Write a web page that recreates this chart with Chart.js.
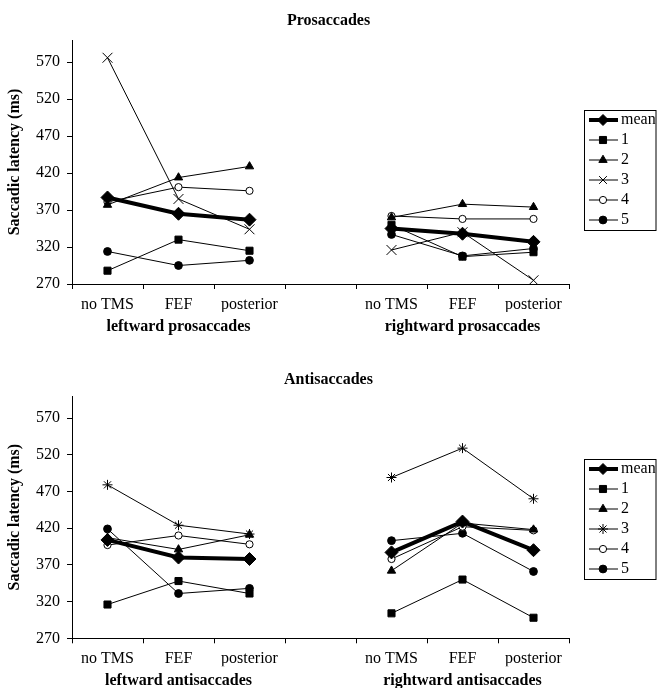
<!DOCTYPE html>
<html><head><meta charset="utf-8">
<script src="https://cdn.jsdelivr.net/npm/chart.js@4.4.1/dist/chart.umd.min.js"></script>
<style>
html,body{margin:0;padding:0;background:#fff;}
#c1{position:absolute;left:0;top:0;}
#c2{position:absolute;left:0;top:350px;}
</style></head><body>
<canvas id="c1" width="657" height="350"></canvas>
<canvas id="c2" width="657" height="338"></canvas>
<script>
// ---------- data ----------
const categories = ['no TMS', 'FEF', 'posterior', '', 'no TMS', 'FEF', 'posterior'];
const proGroups  = ['', 'leftward prosaccades', '', '', '', 'rightward prosaccades', ''];
const antiGroups = ['', 'leftward antisaccades', '', '', '', 'rightward antisaccades', ''];
const yTicks = [270, 320, 370, 420, 470, 520, 570];
const seriesNames = ['mean', '1', '2', '3', '4', '5'];

const proMean = [387, 365, 357, null, 345, 338, 327];
const pro1    = [288, 330, 315, null, 350, 307, 313];
const pro2    = [377, 414, 429, null, 360, 378, 374];
const pro3    = [576, 385, 344, null, 316, 340, 275];
const pro4    = [381, 401, 396, null, 362, 358, 358];
const pro5    = [314, 295, 302, null, 337, 308, 318];

const antiMean = [404, 380, 378, null, 387, 429, 390];
const anti1    = [316, 348, 331, null, 304, 350, 298];
const anti2    = [407, 391, 411, null, 362, 427, 418];
const anti3    = [479, 424, 412, null, 489, 529, 460];
const anti4    = [397, 410, 398, null, 378, 422, 417];
const anti5    = [419, 331, 338, null, 403, 413, 361];

// ---------- styles ----------
Chart.defaults.font.family = "'Liberation Serif', 'Times New Roman', serif";
Chart.defaults.color = '#000';

function seriesStyles(thirdStyle, thirdRadius) {
  return [
    {pointStyle: 'rectRot', radius: 6.5, lineWidth: 4, fill: '#000'},
    {pointStyle: 'rect', radius: 5, lineWidth: 1, fill: '#000'},
    {pointStyle: 'triangle', radius: 4.8, lineWidth: 1, fill: '#000'},
    {pointStyle: thirdStyle, radius: thirdRadius, lineWidth: 1, fill: '#000'},
    {pointStyle: 'circle', radius: 3.6, lineWidth: 1, fill: '#fff'},
    {pointStyle: 'circle', radius: 3.9, lineWidth: 1, fill: '#000'}
  ];
}

function drawMarker(ctx, style, r, x, y) {
  ctx.beginPath();
  const s = Math.SQRT1_2 * r;
  switch (style) {
    case 'rectRot':
      ctx.moveTo(x - r, y); ctx.lineTo(x, y - r); ctx.lineTo(x + r, y); ctx.lineTo(x, y + r); ctx.closePath(); ctx.fill(); ctx.stroke(); break;
    case 'rect':
      ctx.rect(x - s, y - s, 2 * s, 2 * s); ctx.fill(); ctx.stroke(); break;
    case 'triangle': {
      const h = r * Math.sqrt(3) / 2;
      ctx.moveTo(x, y - r); ctx.lineTo(x + h, y + r / 2); ctx.lineTo(x - h, y + r / 2); ctx.closePath(); ctx.fill(); ctx.stroke(); break; }
    case 'crossRot':
      ctx.moveTo(x - s, y - s); ctx.lineTo(x + s, y + s); ctx.moveTo(x + s, y - s); ctx.lineTo(x - s, y + s); ctx.stroke(); break;
    case 'star':
      ctx.moveTo(x - s, y - s); ctx.lineTo(x + s, y + s); ctx.moveTo(x + s, y - s); ctx.lineTo(x - s, y + s);
      ctx.moveTo(x, y - r); ctx.lineTo(x, y + r); ctx.moveTo(x - r, y); ctx.lineTo(x + r, y); ctx.stroke(); break;
    default:
      ctx.arc(x, y, r, 0, Math.PI * 2); ctx.fill(); ctx.stroke();
  }
}

function legendImage(st) {
  const c = document.createElement('canvas');
  c.width = 30; c.height = 16;
  const ctx = c.getContext('2d');
  ctx.strokeStyle = '#000';
  ctx.lineWidth = st.lineWidth;
  ctx.beginPath(); ctx.moveTo(0, 8); ctx.lineTo(30, 8); ctx.stroke();
  ctx.lineWidth = 1;
  ctx.fillStyle = st.fill;
  drawMarker(ctx, st.pointStyle, Math.min(st.radius, 5.5), 15, 8);
  return c;
}

const legendFrame = {
  id: 'legendFrame',
  afterDraw(chart) {
    const hb = chart.legend && chart.legend.legendHitBoxes;
    if (!hb || !hb.length) return;
    const ctx = chart.ctx;
    const first = hb[0], last = hb[hb.length - 1];
    const cy0 = first.top + first.height / 2;
    const cy1 = last.top + last.height / 2;
    const left = Math.round(first.left - 9) + 0.5;
    const top = Math.round(cy0 - 10) + 0.5;
    ctx.save();
    ctx.strokeStyle = '#000';
    ctx.lineWidth = 1;
    ctx.strokeRect(left, top, chart.width - 1 - left, Math.round(cy1 - cy0 + 20));
    ctx.restore();
  }
};

function makeChart(id, title, groups, series, styles, titlePad, bottomPad, groupHeight) {
  const imgs = styles.map(legendImage);
  const datasets = series.map((d, i) => ({
    label: seriesNames[i],
    data: d,
    borderColor: '#000',
    borderWidth: styles[i].lineWidth,
    pointStyle: styles[i].pointStyle,
    pointRadius: styles[i].radius,
    pointHoverRadius: styles[i].radius,
    pointBackgroundColor: styles[i].fill,
    pointBorderColor: '#000',
    pointBorderWidth: 1,
    tension: 0,
    spanGaps: false,
    fill: false
  }));
  return new Chart(document.getElementById(id), {
    type: 'line',
    data: {labels: categories, datasets},
    plugins: [legendFrame],
    options: {
      responsive: false,
      animation: false,
      devicePixelRatio: 1,
      layout: {padding: {left: 0, right: 0, top: 0, bottom: bottomPad}},
      plugins: {
        tooltip: {enabled: false},
        title: {display: true, text: title, font: {size: 16, weight: 'bold'}, color: '#000', padding: titlePad},
        legend: {
          position: 'right', align: 'center', maxWidth: 68,
          labels: {
            usePointStyle: true, pointStyleWidth: 20, padding: 4,
            font: {size: 16}, color: '#000',
            generateLabels: (chart) => chart.data.datasets.map((ds, i) => ({
              text: ds.label, pointStyle: imgs[i], datasetIndex: i, hidden: false,
              lineWidth: 0, strokeStyle: '#000', fillStyle: '#000', fontColor: '#000'
            }))
          }
        }
      },
      scales: {
        x: {
          type: 'category', labels: categories, offset: true, weight: 0,
          grid: {offset: true, drawOnChartArea: false, drawTicks: true, tickLength: 5, color: '#000'},
          border: {color: '#000', width: 1},
          ticks: {autoSkip: false, maxRotation: 0, minRotation: 0, padding: 6, font: {size: 16}, color: '#000'},
          afterFit: (s) => { s.height = 28; }
        },
        x2: {
          type: 'category', labels: groups, position: 'bottom', offset: true, weight: 1,
          grid: {display: false, drawTicks: false},
          border: {display: false},
          ticks: {autoSkip: false, maxRotation: 0, minRotation: 0, padding: 7, font: {size: 16, weight: 'bold', lineHeight: 1}, color: '#000'},
          afterFit: (s) => { s.height = groupHeight; }
        },
        y: {
          min: 270, max: 600,
          afterBuildTicks: (s) => { s.ticks = yTicks.map(v => ({value: v})); },
          grid: {drawOnChartArea: false, drawTicks: true, tickLength: 5, color: '#000'},
          border: {color: '#000', width: 1},
          ticks: {padding: 7, font: {size: 16}, color: '#000'},
          title: {display: true, text: 'Saccadic latency (ms)', font: {size: 16, weight: 'bold'}, color: '#000', padding: {top: 5, bottom: 0}},
          afterFit: (s) => { s.width = 72; }
        },
        gap: {
          type: 'linear', position: 'right', display: true,
          grid: {display: false, drawTicks: false}, border: {display: false},
          ticks: {display: false},
          afterFit: (s) => { s.width = 20; }
        }
      }
    }
  });
}

makeChart('c1', 'Prosaccades', proGroups,
  [proMean, pro1, pro2, pro3, pro4, pro5],
  seriesStyles('crossRot', 7), {top: 11.4, bottom: 9.4}, 10, 28);
makeChart('c2', 'Antisaccades', antiGroups,
  [antiMean, anti1, anti2, anti3, anti4, anti5],
  seriesStyles('star', 5), {top: 19.9, bottom: 6.9}, 0, 21.7);
</script>
</body></html>
